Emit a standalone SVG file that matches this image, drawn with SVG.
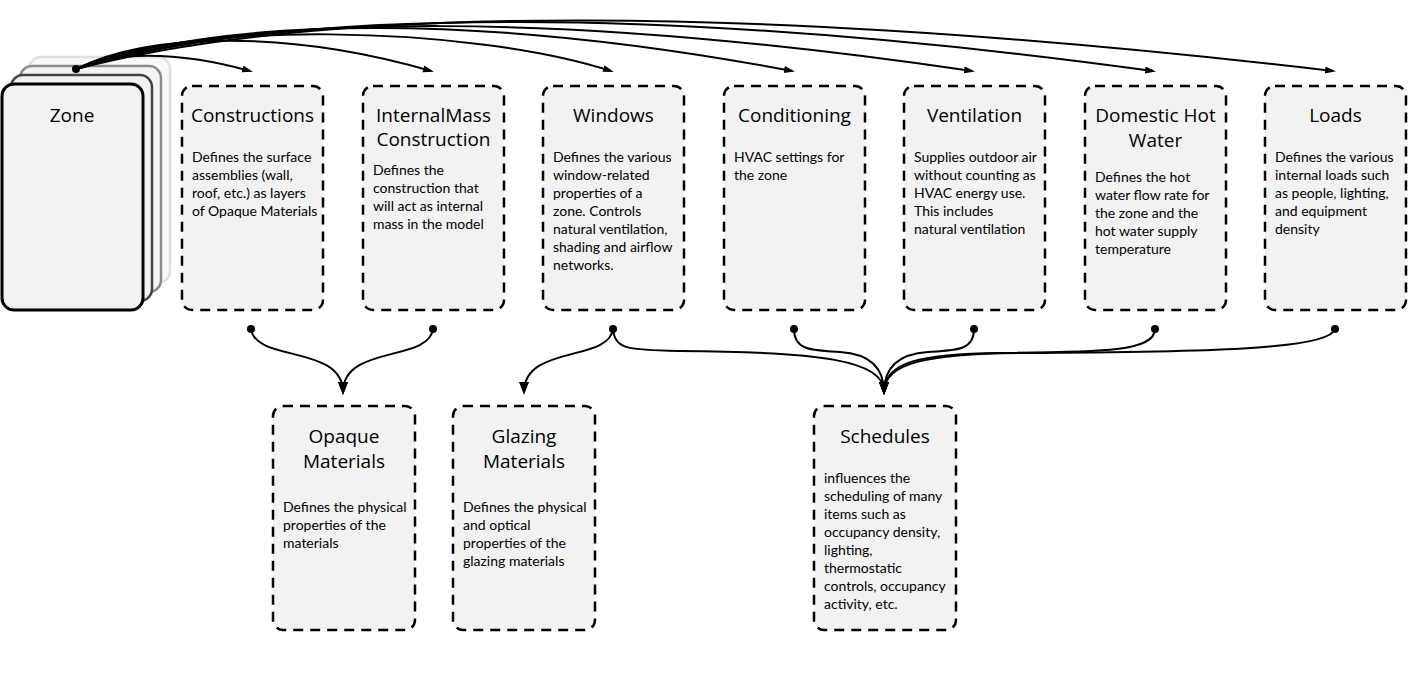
<svg xmlns="http://www.w3.org/2000/svg" width="1409" height="677" viewBox="0 0 1409 677">
<style>
.box{fill:#f2f2f2;stroke:#000;stroke-width:2.5;stroke-dasharray:10 7}
.t{font-family:"Open Sans",Lato,"Liberation Sans",sans-serif;font-size:19px;fill:#000;text-anchor:middle}
.b{font-family:Lato,"Open Sans","Liberation Sans",sans-serif;font-size:14px;fill:#000}
.c{fill:none;stroke:#000;stroke-width:2}
</style>
<defs>
<marker id="ah" markerUnits="userSpaceOnUse" markerWidth="12" markerHeight="10" refX="8" refY="3.5" orient="auto">
<path d="M0,0 L11,3.5 L0,7 z" fill="#000"/>
</marker>
<marker id="ah2" markerUnits="userSpaceOnUse" markerWidth="14" markerHeight="12" refX="10" refY="5" orient="auto">
<path d="M0,0 L13,5 L0,10 z" fill="#000"/>
</marker>
</defs>
<rect width="1409" height="677" fill="#fff"/>

<g id="zone">
<rect x="29" y="57" width="141" height="226" rx="12" fill="#f8f8f8" stroke="#e0e0e0" stroke-width="2.5"/>
<rect x="20" y="66" width="141" height="226" rx="12" fill="#f4f4f4" stroke="#8a8a8a" stroke-width="2.5"/>
<rect x="11" y="75" width="141" height="226" rx="12" fill="#f2f2f2" stroke="#444" stroke-width="2.5"/>
<rect x="2" y="84" width="141" height="226" rx="12" fill="#f2f2f2" stroke="#000" stroke-width="3"/>
<text class="t" x="72" y="122">Zone</text>
</g>

<g id="constructions">
<rect class="box" x="182" y="86" width="141" height="224" rx="10"/>
<text class="t" x="252.5" y="122">Constructions</text>
<text class="b" x="192" y="162"><tspan x="192">Defines the surface</tspan><tspan x="192" dy="18">assemblies (wall,</tspan><tspan x="192" dy="18">roof, etc.) as layers</tspan><tspan x="192" dy="18">of Opaque Materials</tspan></text>
</g>

<g id="internalmass">
<rect class="box" x="363" y="86" width="141" height="224" rx="10"/>
<text class="t" x="433.5" y="122">InternalMass</text>
<text class="t" x="433.5" y="146">Construction</text>
<text class="b" x="373" y="175"><tspan x="373">Defines the</tspan><tspan x="373" dy="18">construction that</tspan><tspan x="373" dy="18">will act as internal</tspan><tspan x="373" dy="18">mass in the model</tspan></text>
</g>

<g id="windows">
<rect class="box" x="543" y="86" width="141" height="224" rx="10"/>
<text class="t" x="613.5" y="122">Windows</text>
<text class="b" x="553" y="162"><tspan x="553">Defines the various</tspan><tspan x="553" dy="18">window-related</tspan><tspan x="553" dy="18">properties of a</tspan><tspan x="553" dy="18">zone. Controls</tspan><tspan x="553" dy="18">natural ventilation,</tspan><tspan x="553" dy="18">shading and airflow</tspan><tspan x="553" dy="18">networks.</tspan></text>
</g>

<g id="conditioning">
<rect class="box" x="724" y="86" width="141" height="224" rx="10"/>
<text class="t" x="794.5" y="122">Conditioning</text>
<text class="b" x="734" y="162"><tspan x="734">HVAC settings for</tspan><tspan x="734" dy="18">the zone</tspan></text>
</g>

<g id="ventilation">
<rect class="box" x="904" y="86" width="141" height="224" rx="10"/>
<text class="t" x="974.5" y="122">Ventilation</text>
<text class="b" x="914" y="162"><tspan x="914">Supplies outdoor air</tspan><tspan x="914" dy="18">without counting as</tspan><tspan x="914" dy="18">HVAC energy use.</tspan><tspan x="914" dy="18">This includes</tspan><tspan x="914" dy="18">natural ventilation</tspan></text>
</g>

<g id="domestichotwater">
<rect class="box" x="1085" y="86" width="141" height="224" rx="10"/>
<text class="t" x="1155.5" y="122">Domestic Hot</text>
<text class="t" x="1155.5" y="146.5">Water</text>
<text class="b" x="1095" y="182"><tspan x="1095">Defines the hot</tspan><tspan x="1095" dy="18">water flow rate for</tspan><tspan x="1095" dy="18">the zone and the</tspan><tspan x="1095" dy="18">hot water supply</tspan><tspan x="1095" dy="18">temperature</tspan></text>
</g>

<g id="loads">
<rect class="box" x="1265" y="86" width="141" height="224" rx="10"/>
<text class="t" x="1335.5" y="122">Loads</text>
<text class="b" x="1275" y="162"><tspan x="1275">Defines the various</tspan><tspan x="1275" dy="18">internal loads such</tspan><tspan x="1275" dy="18">as people, lighting,</tspan><tspan x="1275" dy="18">and equipment</tspan><tspan x="1275" dy="18">density</tspan></text>
</g>

<g id="opaquematerials">
<rect class="box" x="273" y="406" width="142" height="224" rx="10"/>
<text class="t" x="344" y="443">Opaque</text>
<text class="t" x="344" y="467.5">Materials</text>
<text class="b" x="283" y="512"><tspan x="283">Defines the physical</tspan><tspan x="283" dy="18">properties of the</tspan><tspan x="283" dy="18">materials</tspan></text>
</g>

<g id="glazingmaterials">
<rect class="box" x="453" y="406" width="142" height="224" rx="10"/>
<text class="t" x="524" y="443">Glazing</text>
<text class="t" x="524" y="467.5">Materials</text>
<text class="b" x="463" y="512"><tspan x="463">Defines the physical</tspan><tspan x="463" dy="18">and optical</tspan><tspan x="463" dy="18">properties of the</tspan><tspan x="463" dy="18">glazing materials</tspan></text>
</g>

<g id="schedules">
<rect class="box" x="814" y="406" width="142" height="224" rx="10"/>
<text class="t" x="885" y="443">Schedules</text>
<text class="b" x="824" y="483"><tspan x="824">influences the</tspan><tspan x="824" dy="18">scheduling of many</tspan><tspan x="824" dy="18">items such as</tspan><tspan x="824" dy="18">occupancy density,</tspan><tspan x="824" dy="18">lighting,</tspan><tspan x="824" dy="18">thermostatic</tspan><tspan x="824" dy="18">controls, occupancy</tspan><tspan x="824" dy="18">activity, etc.</tspan></text>
</g>

<g id="connectors">
<path class="c" marker-end="url(#ah)" d="M76,69 C112,52 175,50 250,71"/>
<path class="c" marker-end="url(#ah)" d="M76,69 C150,32 290,30 431,71"/>
<path class="c" marker-end="url(#ah)" d="M76,69 C180,20 470,25 611,71"/>
<path class="c" marker-end="url(#ah)" d="M76,69 C230,14 490,14 792,71"/>
<path class="c" marker-end="url(#ah)" d="M76,69 C256,11 570,12 972,71"/>
<path class="c" marker-end="url(#ah)" d="M76,69 C292,6 680,6 1153,71"/>
<path class="c" marker-end="url(#ah)" d="M76,69 C328,3 768,5 1333,71"/>
<circle cx="76" cy="69" r="4"/>

<path class="c" marker-end="url(#ah2)" d="M251,329 C255,362 343,345 343,392"/>
<path class="c" marker-end="url(#ah2)" d="M433,329 C429,362 343,345 343,392"/>
<path class="c" marker-end="url(#ah2)" d="M613,329 C609,362 524,345 524,392"/>
<path class="c" marker-end="url(#ah2)" d="M613,329 C615,350 630,350 680,351 C820,352 884,360 884,392"/>
<path class="c" marker-end="url(#ah2)" d="M794,329 C794,352 815,350 840,352 C870,354 884,368 884,392"/>
<path class="c" marker-end="url(#ah2)" d="M974,329 C974,352 953,350 928,352 C898,354 884,368 884,392"/>
<path class="c" marker-end="url(#ah2)" d="M1155,329 C1155,352 1100,352 1000,353 C920,354 884,362 884,392"/>
<path class="c" marker-end="url(#ah2)" d="M1335,329 C1330,350 1200,352 1020,353 C930,354 884,362 884,392"/>
<circle cx="251" cy="329" r="4"/>
<circle cx="433" cy="329" r="4"/>
<circle cx="613" cy="329" r="4"/>
<circle cx="794" cy="329" r="4"/>
<circle cx="974" cy="329" r="4"/>
<circle cx="1155" cy="329" r="4"/>
<circle cx="1335" cy="329" r="4"/>
</g>
</svg>
